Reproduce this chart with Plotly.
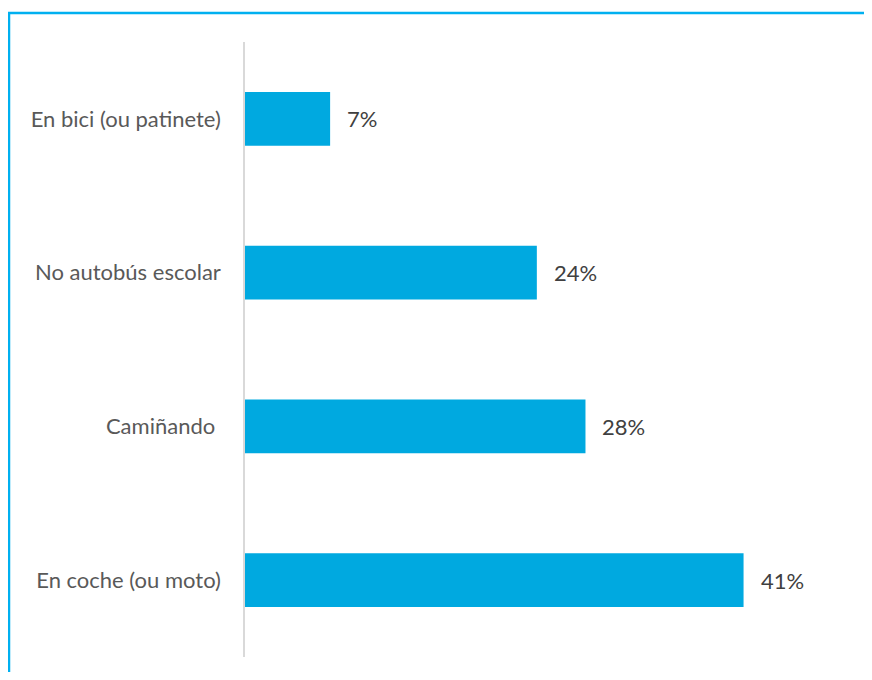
import plotly.graph_objects as go

categories = ["En coche (ou moto)", "Camiñando ", "No autobús escolar", "En bici (ou patinete)"]
values = [41, 28, 24, 7]
labels = ["41%", "28%", "24%", "7%"]

OFF = 8  # page (body) offset of the figure in the screenshot
W, H = 872 - 2 * OFF, 680 - 2 * OFF
ML, MT = 245 - OFF, 42 - OFF
XMAX = 50
pw = 608
MR = W - ML - pw
MB = H - (657 - OFF)
ph = H - MT - MB

def px_to_paper_x(px):
    return (px - OFF - ML) / pw

def px_to_paper_y(py):
    return (H - MB - (py - OFF)) / ph

fig = go.Figure(go.Bar(
    y=categories, x=values, orientation="h",
    marker=dict(color="#00A9E0", line=dict(width=0)),
    hoverinfo="skip",
))

for cat, val, lab in zip(categories, values, labels):
    fig.add_annotation(x=val, y=cat, text=lab, showarrow=False,
                       xanchor="left", xshift=15,
                       font=dict(family="Lato", size=22, color="#404040"))

fig.update_layout(
    width=W, height=H,
    margin=dict(l=ML, r=MR, t=MT, b=MB),
    paper_bgcolor="white", plot_bgcolor="white",
    bargap=0.65,
    showlegend=False,
    xaxis=dict(range=[0, XMAX], visible=False, fixedrange=True),
    yaxis=dict(showline=True, linecolor="#D9D9D9", linewidth=1.5,
               ticks="", ticklen=0, showgrid=False, zeroline=False,
               ticklabelstandoff=18,
               tickfont=dict(family="Lato", size=22, color="#595959")),
    shapes=[dict(type="rect", xref="paper", yref="paper",
                 x0=px_to_paper_x(9), x1=px_to_paper_x(900),
                 y0=px_to_paper_y(720), y1=px_to_paper_y(13),
                 line=dict(color="#00B0F0", width=2.5), fillcolor="rgba(0,0,0,0)",
                 layer="below")],
)

fig.write_html("out.html")
